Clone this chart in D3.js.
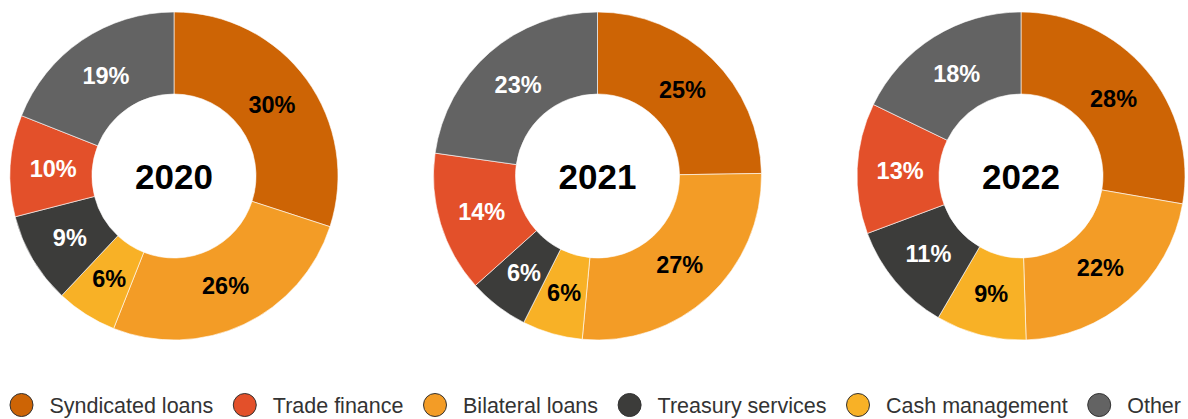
<!DOCTYPE html>
<html>
<head>
<meta charset="utf-8">
<script src="https://cdn.jsdelivr.net/npm/d3@7/dist/d3.min.js"></script>
<style>
  html, body { margin: 0; padding: 0; background: #fff; }
  svg { display: block; font-family: "Liberation Sans", Arial, Helvetica, sans-serif; }
</style>
</head>
<body>
<svg id="chart" width="1188" height="419"></svg>
<script>
// Revenue mix by product line, share of total (%)
const years = ["2020", "2021", "2022"];
const categories = ["Syndicated loans", "Bilateral loans", "Cash management", "Treasury services", "Trade finance", "Other"];
const share2020 = [30, 26, 6, 9, 10, 19];
const share2021 = [25, 27, 6, 6, 14, 23];
const share2022 = [28, 22, 9, 11, 13, 18];
const legendOrder = ["Syndicated loans", "Trade finance", "Bilateral loans", "Treasury services", "Cash management", "Other"];

const seriesByYear = [share2020, share2021, share2022];

const color = d3.scaleOrdinal()
  .domain(categories)
  .range(["#cd6405", "#f39c26", "#f8b126", "#3c3c3a", "#e3502a", "#636363"]);
const labelColor = d3.scaleOrdinal()
  .domain(categories)
  .range(["#000", "#000", "#000", "#fff", "#fff", "#fff"]);

const svg = d3.select("#chart");
const outerR = 164, innerR = 82;
const cx = d3.scalePoint().domain(years).range([174, 1021]);
const cy = 176;

const pie = d3.pie().sort(null).value(d => d.value);
const arc = d3.arc().innerRadius(innerR).outerRadius(outerR);
const labelR = 121;
const labelArc = d3.arc().innerRadius(labelR).outerRadius(labelR);

years.forEach((yr, i) => {
  const data = categories.map((c, j) => ({ cat: c, value: seriesByYear[i][j] }));
  const g = svg.append("g").attr("transform", `translate(${cx(yr)},${cy})`);
  const arcs = pie(data);

  g.selectAll("path.slice").data(arcs).join("path")
    .attr("class", "slice")
    .attr("d", arc)
    .attr("fill", d => color(d.data.cat))
    .attr("stroke", "#fff")
    .attr("stroke-width", 0.6);

  g.selectAll("text.pct").data(arcs).join("text")
    .attr("class", "pct")
    .attr("transform", d => `translate(${labelArc.centroid(d)})`)
    .attr("text-anchor", "middle")
    .attr("dy", "0.36em")
    .attr("font-size", 23.5)
    .attr("font-weight", "bold")
    .attr("fill", d => labelColor(d.data.cat))
    .text(d => d.data.value + "%");

  g.append("text")
    .attr("text-anchor", "middle")
    .attr("dy", "0.36em")
    .attr("font-size", 35)
    .attr("font-weight", "bold")
    .attr("fill", "#000")
    .text(yr);
});

// Legend: swatch + label, spread evenly across the full width
const legendY = 405, swatchR = 11.5, textOffset = 28;
const legendLeft = 10, legendRight = 1181;
const legend = svg.append("g").attr("transform", `translate(0,${legendY})`);
const items = legendOrder.map(name => {
  const item = legend.append("g");
  item.append("circle")
    .attr("r", swatchR)
    .attr("fill", color(name))
    .attr("stroke", "#333")
    .attr("stroke-width", 1);
  const t = item.append("text")
    .attr("x", textOffset)
    .attr("dy", "0.36em")
    .attr("font-size", 21.5)
    .attr("fill", "#333")
    .text(name);
  return { item, w: swatchR + textOffset + t.node().getComputedTextLength() };
});
const used = d3.sum(items, d => d.w);
const gap = (legendRight - legendLeft - used) / (items.length - 1);
let x = legendLeft;
items.forEach(d => {
  d.item.attr("transform", `translate(${x + swatchR},0)`);
  x += d.w + gap;
});
</script>
</body>
</html>
